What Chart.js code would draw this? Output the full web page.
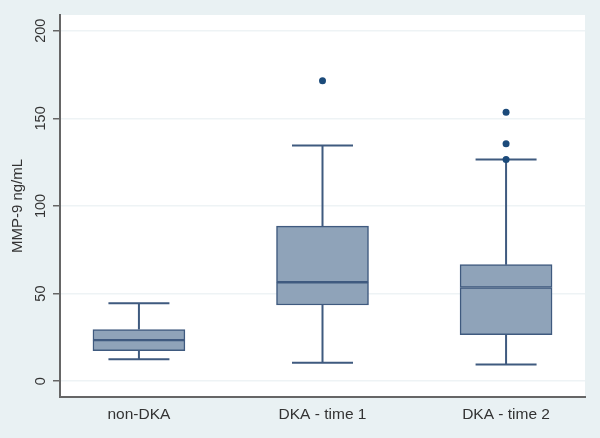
<!DOCTYPE html>
<html>
<head>
<meta charset="utf-8">
<script src="https://cdn.jsdelivr.net/npm/chart.js@4.4.0/dist/chart.umd.min.js"></script>
<style>
  body { margin: 0; background: #e9f1f3; }
  canvas { display: block; }
</style>
</head>
<body>
<canvas id="boxChart" width="600" height="438"></canvas>
<script>
// box plot summary (MMP-9, ng/mL)
const groups = ['non-DKA', 'DKA - time 1', 'DKA - time 2'];
const lowWhisker = [12.5, 10.5, 9.5];
const q1 = [17.5, 43.5, 26.5];
const median = [23.5, 56.5, 53.5];
const q3 = [29.5, 88.5, 66.5];
const highWhisker = [44.5, 134.5, 126.5];

// outliers: which group (1-based) and value
const outlierGroup = [2, 3, 3, 3];
const outlierValue = [171.5, 153.5, 135.5, 126.5];

const yTicks = [0, 50, 100, 150, 200];

const boxFill = '#8fa3b9';
const boxLine = '#3f5a7f';
const dotColor = '#1b4a7a';

let lowerHalf = [];
let upperHalf = [];
for (let i = 0; i < groups.length; i++) {
    lowerHalf.push({x: i + 1, y: [q1[i], median[i]]});
    upperHalf.push({x: i + 1, y: [median[i], q3[i]]});
}
let outliers = [];
for (let i = 0; i < outlierValue.length; i++) {
    outliers.push({x: outlierGroup[i], y: outlierValue[i]});
}

// white plot region on the tinted page
const plotBackground = {
    id: 'plotBackground',
    beforeDraw(chart) {
        const {ctx, chartArea} = chart;
        ctx.save();
        ctx.fillStyle = '#e9f1f3';
        ctx.fillRect(0, 0, chart.width, chart.height);
        ctx.fillStyle = '#ffffff';
        ctx.fillRect(chartArea.left, chartArea.top, chartArea.right - chartArea.left, chartArea.bottom - chartArea.top);
        ctx.restore();
    }
};

// whiskers and caps, placed with the chart's scales
const whiskers = {
    id: 'whiskers',
    beforeDatasetsDraw(chart) {
        const {ctx, scales} = chart;
        const capHalf = 30.5;
        ctx.save();
        ctx.strokeStyle = boxLine;
        ctx.lineWidth = 2;
        for (let i = 0; i < groups.length; i++) {
            const x = scales.x.getPixelForValue(i + 1);
            const yLo = scales.y.getPixelForValue(lowWhisker[i]);
            const yQ1 = scales.y.getPixelForValue(q1[i]);
            const yQ3 = scales.y.getPixelForValue(q3[i]);
            const yHi = scales.y.getPixelForValue(highWhisker[i]);
            ctx.beginPath();
            ctx.moveTo(x, yLo); ctx.lineTo(x, yQ1);
            ctx.moveTo(x, yQ3); ctx.lineTo(x, yHi);
            ctx.moveTo(x - capHalf, yLo); ctx.lineTo(x + capHalf, yLo);
            ctx.moveTo(x - capHalf, yHi); ctx.lineTo(x + capHalf, yHi);
            ctx.stroke();
        }
        ctx.restore();
    }
};

const ctx = document.getElementById('boxChart').getContext('2d');
new Chart(ctx, {
    type: 'bar',
    data: {
        datasets: [
            {
                label: 'Q1-median',
                data: lowerHalf,
                backgroundColor: boxFill,
                borderColor: boxLine,
                borderWidth: 1.5,
                borderSkipped: false,
                barThickness: 92,
                grouped: false
            },
            {
                label: 'median-Q3',
                data: upperHalf,
                backgroundColor: boxFill,
                borderColor: boxLine,
                borderWidth: 1.5,
                borderSkipped: false,
                barThickness: 92,
                grouped: false
            },
            {
                type: 'scatter',
                label: 'outliers',
                data: outliers,
                backgroundColor: dotColor,
                borderWidth: 0,
                pointRadius: 3.5
            }
        ]
    },
    options: {
        responsive: false,
        animation: false,
        layout: {padding: {left: 0, right: 15, top: 15, bottom: 0}},
        plugins: {
            legend: {display: false},
            tooltip: {enabled: false}
        },
        scales: {
            x: {
                type: 'linear',
                offset: false,
                min: 0.57,
                max: 3.43,
                afterBuildTicks: (scale) => { scale.ticks = groups.map((g, i) => ({value: i + 1})); },
                afterFit: (scale) => { scale.height = 41; },
                grid: {display: false, drawTicks: false},
                border: {color: '#666666', width: 2},
                ticks: {
                    padding: 8,
                    color: '#333333',
                    font: {family: 'Liberation Sans', size: 15.5},
                    maxRotation: 0,
                    autoSkip: false,
                    callback: (v) => groups[v - 1] || ''
                }
            },
            y: {
                min: -9,
                max: 209,
                afterBuildTicks: (scale) => { scale.ticks = yTicks.map(v => ({value: v})); },
                afterFit: (scale) => { scale.width = 60; },
                grid: {color: '#eef3f5', tickColor: '#666666', tickLength: 7, lineWidth: 1.5},
                border: {color: '#666666', width: 2},
                ticks: {
                    padding: 0,
                    color: '#333333',
                    font: {family: 'Liberation Sans', size: 14.5},
                    minRotation: 90,
                    maxRotation: 90,
                    crossAlign: 'center'
                },
                title: {
                    display: true,
                    text: 'MMP-9 ng/mL',
                    color: '#333333',
                    font: {family: 'Liberation Sans', size: 15},
                    padding: {top: 9, bottom: 0}
                }
            }
        }
    },
    plugins: [plotBackground, whiskers]
});
</script>
</body>
</html>
